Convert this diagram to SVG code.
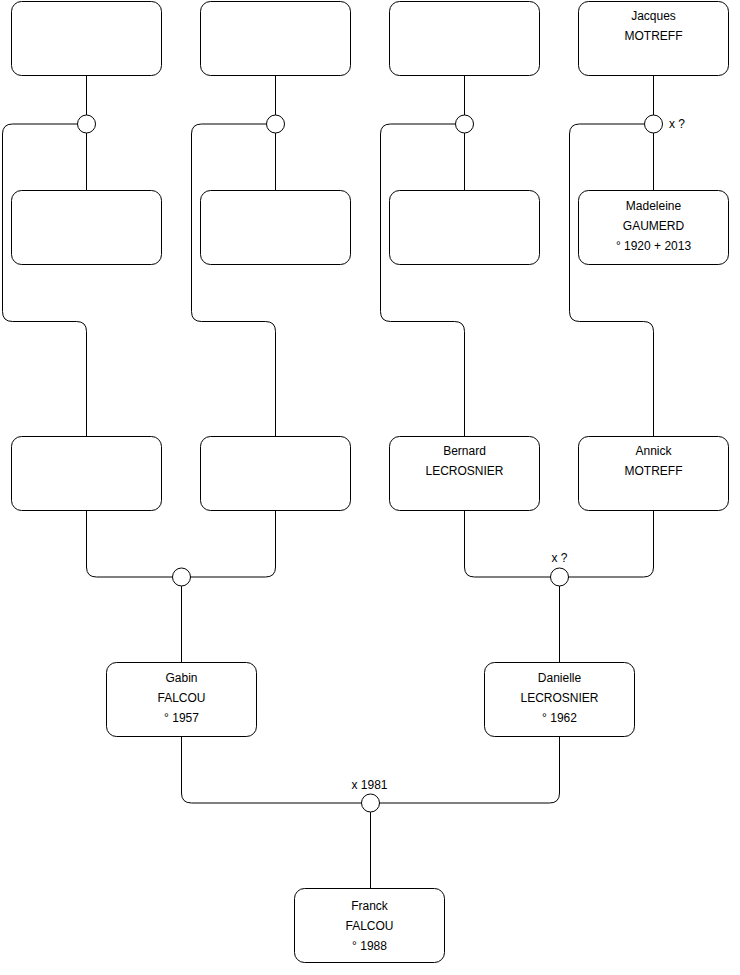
<svg xmlns="http://www.w3.org/2000/svg" width="740" height="975" viewBox="0 0 740 975">
<style>
.box{fill:#fff;stroke:#000;stroke-width:1}
.c{fill:#fff;stroke:#000;stroke-width:1}
.ln{fill:none;stroke:#000;stroke-width:1}
text{font-family:"Liberation Sans",Arial,sans-serif;font-size:12px;fill:#000}
.m{text-anchor:middle}
</style>
<rect width="740" height="975" fill="#fff"/>
<g id="connectors">
<path class="ln" d="M86.5 76V115"/>
<path class="ln" d="M86.5 133V190"/>
<path class="ln" d="M77 124H12.5Q2.5 124 2.5 134V311.5Q2.5 321.5 12.5 321.5H76.5Q86.5 321.5 86.5 331.5V436"/>
<path class="ln" d="M275.5 76V115"/>
<path class="ln" d="M275.5 133V190"/>
<path class="ln" d="M266 124H201.5Q191.5 124 191.5 134V311.5Q191.5 321.5 201.5 321.5H265.5Q275.5 321.5 275.5 331.5V436"/>
<path class="ln" d="M464.5 76V115"/>
<path class="ln" d="M464.5 133V190"/>
<path class="ln" d="M455 124H390.5Q380.5 124 380.5 134V311.5Q380.5 321.5 390.5 321.5H454.5Q464.5 321.5 464.5 331.5V436"/>
<path class="ln" d="M653.5 76V115"/>
<path class="ln" d="M653.5 133V190"/>
<path class="ln" d="M644 124H579.5Q569.5 124 569.5 134V311.5Q569.5 321.5 579.5 321.5H643.5Q653.5 321.5 653.5 331.5V436"/>
<path class="ln" d="M86.5 511V567Q86.5 577 96.5 577H172"/>
<path class="ln" d="M275.5 511V567Q275.5 577 265.5 577H190"/>
<path class="ln" d="M181.5 586V662"/>
<path class="ln" d="M464.5 511V567Q464.5 577 474.5 577H550"/>
<path class="ln" d="M653.5 511V567Q653.5 577 643.5 577H568"/>
<path class="ln" d="M559.5 586V662"/>
<path class="ln" d="M181.5 737V793Q181.5 803 191.5 803H361"/>
<path class="ln" d="M559.5 737V793Q559.5 803 549.5 803H379"/>
<path class="ln" d="M370.5 812V888"/>
<circle class="c" cx="86.5" cy="124" r="9"/>
<circle class="c" cx="275.5" cy="124" r="9"/>
<circle class="c" cx="464.5" cy="124" r="9"/>
<circle class="c" cx="653.5" cy="124" r="9"/>
<circle class="c" cx="181.5" cy="577" r="9"/>
<circle class="c" cx="559.5" cy="577" r="9"/>
<circle class="c" cx="370.5" cy="803" r="9"/>
<text x="669" y="128">x ?</text>
<text class="m" x="559.5" y="562">x ?</text>
<text class="m" x="369.5" y="789">x 1981</text>
</g>
<g id="n1"><rect class="box" x="11.5" y="1.5" width="150" height="74" rx="10"/></g>
<g id="n2"><rect class="box" x="200.5" y="1.5" width="150" height="74" rx="10"/></g>
<g id="n3"><rect class="box" x="389.5" y="1.5" width="150" height="74" rx="10"/></g>
<g id="jacques"><rect class="box" x="578.5" y="1.5" width="150" height="74" rx="10"/>
<text class="m" x="653.5" y="20">Jacques</text><text class="m" x="653.5" y="40">MOTREFF</text></g>
<g id="n5"><rect class="box" x="11.5" y="190.5" width="150" height="74" rx="10"/></g>
<g id="n6"><rect class="box" x="200.5" y="190.5" width="150" height="74" rx="10"/></g>
<g id="n7"><rect class="box" x="389.5" y="190.5" width="150" height="74" rx="10"/></g>
<g id="madeleine"><rect class="box" x="578.5" y="190.5" width="150" height="74" rx="10"/>
<text class="m" x="653.5" y="210">Madeleine</text><text class="m" x="653.5" y="230">GAUMERD</text><text class="m" x="653.5" y="250">° 1920 + 2013</text></g>
<g id="n9"><rect class="box" x="11.5" y="436.5" width="150" height="74" rx="10"/></g>
<g id="n10"><rect class="box" x="200.5" y="436.5" width="150" height="74" rx="10"/></g>
<g id="bernard"><rect class="box" x="389.5" y="436.5" width="150" height="74" rx="10"/>
<text class="m" x="464.5" y="455">Bernard</text><text class="m" x="464.5" y="475">LECROSNIER</text></g>
<g id="annick"><rect class="box" x="578.5" y="436.5" width="150" height="74" rx="10"/>
<text class="m" x="653.5" y="455">Annick</text><text class="m" x="653.5" y="475">MOTREFF</text></g>
<g id="gabin"><rect class="box" x="106.5" y="662.5" width="150" height="74" rx="10"/>
<text class="m" x="181.5" y="682">Gabin</text><text class="m" x="181.5" y="702">FALCOU</text><text class="m" x="181.5" y="722">° 1957</text></g>
<g id="danielle"><rect class="box" x="484.5" y="662.5" width="150" height="74" rx="10"/>
<text class="m" x="559.5" y="682">Danielle</text><text class="m" x="559.5" y="702">LECROSNIER</text><text class="m" x="559.5" y="722">° 1962</text></g>
<g id="franck"><rect class="box" x="294.5" y="888.5" width="150" height="74" rx="10"/>
<text class="m" x="369.5" y="910">Franck</text><text class="m" x="369.5" y="930">FALCOU</text><text class="m" x="369.5" y="950">° 1988</text></g>
</svg>
